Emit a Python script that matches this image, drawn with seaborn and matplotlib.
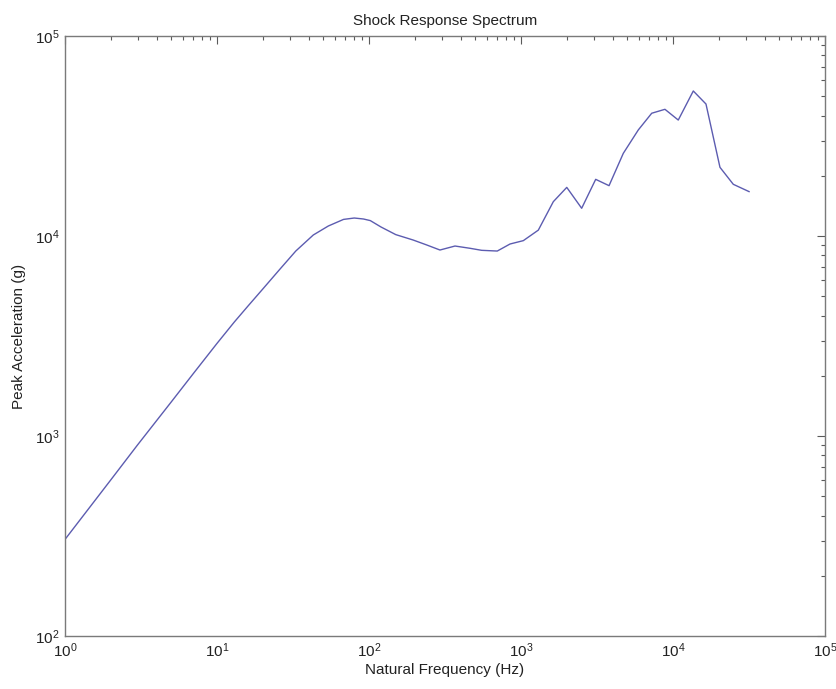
import matplotlib
matplotlib.use("Agg")
import matplotlib.pyplot as plt
import seaborn as sns
import pandas as pd
from matplotlib.ticker import LogLocator, NullFormatter

freq_hz = [1, 2, 3, 5, 7, 10, 13, 16, 20, 26, 33, 43, 54, 68, 80, 92, 102,
           120, 150, 195, 240, 293, 368, 462, 551, 698, 847, 1036, 1300, 1632,
           2000, 2507, 3100, 3795, 4710, 5910, 7245, 8850, 10830, 13600,
           16480, 20370, 24930, 31760]
peak_acc_g = [304, 603, 902, 1480, 2056, 2904, 3715, 4467, 5430, 6840, 8414,
              10116, 11220, 12106, 12300, 12162, 11940, 11090, 10160, 9550,
              9016, 8510, 8910, 8680, 8480, 8410, 9120, 9480, 10700, 14850,
              17500, 13760, 19200, 17850, 25900, 33900, 41100, 43000, 38000,
              53100, 45700, 22050, 18130, 16650]

title = "Shock Response Spectrum"
xlabel = "Natural Frequency (Hz)"
ylabel = "Peak Acceleration (g)"

sns.set_style("white")
plt.rcParams['font.family'] = ['Liberation Sans', 'DejaVu Sans']
plt.rcParams['mathtext.fontset'] = 'custom'
plt.rcParams['mathtext.rm'] = 'Liberation Sans'
plt.rcParams['mathtext.it'] = 'Liberation Sans'

df = pd.DataFrame({"f": freq_hz, "a": peak_acc_g})

fig = plt.figure(figsize=(8.37, 6.89), dpi=100)
ax = fig.add_axes([65/837, 1-636/689, 760/837, 600/689])
sns.lineplot(data=df, x="f", y="a", ax=ax, color="#5c5cb0", linewidth=1.0,
             sort=False)
ax.set_xscale("log")
ax.set_yscale("log")
ax.set_xlim(1, 1e5)
ax.set_ylim(1e2, 1e5)

for s in ax.spines.values():
    s.set_color("#7a7a7a")
    s.set_linewidth(1.0)

ax.xaxis.set_major_locator(LogLocator(base=10, numticks=10))
ax.xaxis.set_minor_locator(LogLocator(base=10, subs=range(2, 10), numticks=20))
ax.yaxis.set_major_locator(LogLocator(base=10, numticks=10))
ax.yaxis.set_minor_locator(LogLocator(base=10, subs=range(2, 10), numticks=20))
ax.xaxis.set_minor_formatter(NullFormatter())
ax.yaxis.set_minor_formatter(NullFormatter())

ax.tick_params(which="both", direction="in", top=True, right=True,
               color="#5a5a5a", width=0.8)
ax.tick_params(which="major", length=6, labelsize=11, pad=4, labelcolor="#222222")
ax.tick_params(which="minor", length=3)

ax.set_title(title, fontsize=11, color="#222222", pad=8)
ax.set_xlabel(xlabel, fontsize=11, color="#222222", labelpad=2)
ax.set_ylabel(ylabel, fontsize=11, color="#222222", labelpad=6)

fig.savefig("out.png", dpi=100, facecolor="white")
